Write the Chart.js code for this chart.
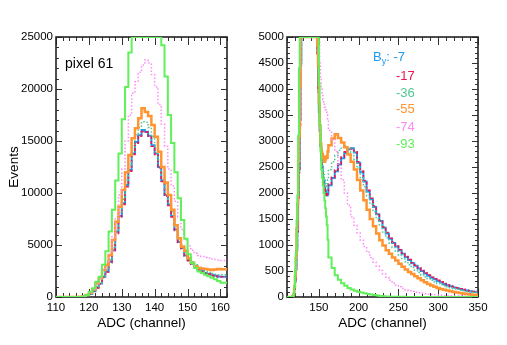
<!DOCTYPE html>
<html>
<head>
<meta charset="utf-8">
<script src="https://cdn.jsdelivr.net/npm/chart.js@4.4.0/dist/chart.umd.min.js"></script>
<style>
  html, body { margin: 0; padding: 0; background: #fff; }
  canvas { position: absolute; top: 0; }
  #cLeft { left: 0; }
  #cRight { left: 253px; }
</style>
</head>
<body>
<canvas id="cLeft" width="253" height="345"></canvas>
<canvas id="cRight" width="254" height="345"></canvas>
<script>
// B_y settings shown in the legend
const fieldLabels = ['-7', '-17', '-36', '-55', '-74', '-93'];

// counts per 1-ADC bin, bins 110 ... 161
const low7 = [0, 0, 0, 0, 0, 0, 0, 0, 10, 40, 150, 300, 550, 930, 1310, 1950, 2450, 3400, 4500, 6280,
  7800, 9010, 10770, 12210, 13800, 14900, 15550, 16050, 15900, 15500, 14600, 13800, 12500, 11200, 9800, 8900,
  7800, 6500, 5300, 4700, 4000, 3550, 3200, 2900, 2650, 2500, 2300, 2220, 2100, 2050, 1980, 1950];
const low17 = [0, 0, 0, 0, 0, 0, 0, 0, 10, 35, 130, 280, 520, 880, 1250, 1880, 2400, 3300, 4400, 6100,
  7700, 8900, 10600, 12100, 13700, 14800, 15450, 15900, 15850, 15450, 14500, 13700, 12400, 11100, 9700, 8800,
  7700, 6400, 5250, 4650, 3950, 3500, 3150, 2880, 2620, 2450, 2280, 2200, 2080, 2030, 1960, 1940];
const low36 = [0, 0, 0, 0, 0, 0, 0, 0, 15, 45, 160, 320, 580, 980, 1380, 2050, 2600, 3550, 4700, 6500,
  8100, 9400, 11200, 12700, 14400, 15600, 16300, 16850, 16800, 16300, 15400, 14500, 13200, 11800, 10400, 9400,
  8200, 6900, 5700, 5000, 4300, 3800, 3400, 3100, 2850, 2650, 2450, 2350, 2250, 2180, 2150, 2130];
const low55 = [0, 0, 0, 0, 0, 0, 0, 0, 20, 60, 200, 400, 750, 1314, 1800, 2600, 3080, 4040, 5480, 7240,
  8680, 10300, 12000, 13650, 15260, 16220, 17180, 18140, 17800, 17400, 16540, 15410, 13970, 12500, 11000, 9800,
  8400, 6900, 5640, 4840, 4450, 3720, 3300, 2950, 2800, 2750, 2700, 2650, 2600, 2650, 2700, 2680];
const low74 = [0, 0, 0, 0, 0, 0, 0, 0, 10, 40, 200, 400, 750, 1300, 1800, 2600, 3400, 4400, 5800, 7500,
  9800, 12300, 15000, 17500, 19600, 20700, 21600, 22300, 22800, 22500, 21400, 20200, 18500, 16600, 14500, 12300,
  10700, 9200, 7700, 6500, 5500, 4900, 4500, 4200, 4000, 3900, 3800, 3750, 3650, 3600, 3560, 3500];
const low93 = [0, 0, 0, 0, 0, 0, 0, 0, 10, 50, 190, 500, 830, 1470, 1950, 3100, 4400, 6300, 8400, 11200,
  13800, 17100, 20200, 23500, 26500, 28500, 30000, 30500, 30500, 30000, 29000, 27500, 25800, 24200, 21200, 17500,
  14800, 12000, 9500, 7400, 5600, 4100, 3300, 2800, 2450, 2300, 2150, 2000, 1850, 1700, 1550, 1380];

// counts per 4-ADC bin, bins 162 ... 346
const tail7 = [1980, 2150, 2290, 2420, 2550, 2670, 2770, 2840, 2860, 2780, 2580, 2400, 2220, 2030, 1880, 1730,
  1590, 1460, 1330, 1220, 1120, 1040, 970, 900, 830, 770, 710, 650, 600, 550, 500, 450, 410, 370, 340, 310,
  280, 250, 225, 205, 185, 170, 155, 140, 125, 110, 100];
const tail17 = [1990, 2170, 2300, 2440, 2560, 2690, 2790, 2860, 2850, 2790, 2600, 2420, 2240, 2050, 1900, 1750,
  1600, 1470, 1350, 1240, 1130, 1050, 980, 910, 840, 780, 720, 660, 610, 560, 510, 460, 420, 380, 350, 320,
  290, 260, 235, 210, 190, 175, 160, 145, 130, 115, 105];
const tail36 = [2250, 2450, 2600, 2720, 2820, 2880, 2900, 2860, 2780, 2650, 2480, 2300, 2120, 1940, 1790, 1640,
  1500, 1370, 1250, 1140, 1040, 950, 870, 800, 740, 680, 620, 565, 515, 470, 425, 385, 350, 320, 290, 262,
  237, 214, 195, 176, 160, 145, 132, 120, 108, 98, 90];
const tail55 = [2800, 2920, 3050, 3130, 3060, 2970, 2880, 2740, 2600, 2450, 2250, 2050, 1860, 1680, 1500, 1360,
  1220, 1090, 990, 900, 830, 760, 700, 640, 580, 530, 480, 440, 400, 360, 320, 285, 250, 220, 195, 175,
  155, 140, 125, 110, 97, 86, 76, 66, 57, 50, 44];
const tail74 = [3380, 3200, 3030, 2800, 2500, 2250, 2000, 1760, 1540, 1380, 1230, 1090, 970, 860, 760, 670,
  590, 510, 440, 380, 320, 270, 230, 195, 165, 140, 120, 105, 92, 80, 70, 62, 55, 48, 42, 38,
  34, 30, 27, 24, 21, 19, 17, 15, 13, 12, 11];
const tail93 = [1100, 760, 560, 420, 330, 265, 215, 175, 145, 120, 100, 85, 72, 60, 48, 38,
  28, 20, 14, 10, 7, 5, 4, 3, 3, 2, 2, 2, 1, 1, 1, 1, 1, 0, 0, 0,
  0, 0, 0, 0, 0, 0, 0, 0, 0, 0, 0];

const leftXTicks = [110, 120, 130, 140, 150, 160];
const leftYTicks = [0, 5000, 10000, 15000, 20000, 25000];
const rightXTicks = [150, 200, 250, 300, 350];
const rightYTicks = [0, 500, 1000, 1500, 2000, 2500, 3000, 3500, 4000, 4500, 5000];

// bin edges
const lowEdges = [];
for (let e = 110; e <= 162; e++) lowEdges.push(e);
const tailEdges = [];
for (let e = 162; e <= 350; e += 4) tailEdges.push(e);

const lowSets = [low7, low17, low36, low55, low74, low93];
const tailSets = [tail7, tail17, tail36, tail55, tail74, tail93];

const colors = ['#1e9bf0', '#f01450', '#50c896', '#ff9430', '#ff8cf5', '#60f05a'];
const widths = [2, 1.6, 1.5, 2.5, 1.5, 2];
const dashes = [[], [3, 2], [1.5, 2], [], [1.5, 2], []];
const FONT = "'Liberation Sans', Arial, Helvetica, sans-serif";

function histPoints(edges, counts, cap) {
  const pts = counts.map((c, i) => ({ x: edges[i], y: Math.min(c, cap) }));
  pts.push({ x: edges[counts.length], y: Math.min(counts[counts.length - 1], cap) });
  return pts;
}

// frame with ROOT-like inner ticks on all four sides, plus free text
const rootFrame = {
  id: 'rootFrame',
  beforeDatasetsDraw(chart, args, opts) {
    const { ctx, chartArea: a, scales: { x, y } } = chart;
    ctx.save();
    ctx.strokeStyle = '#333';
    ctx.lineWidth = 1;
    ctx.beginPath();
    for (let v = x.min; v <= x.max + 1e-6; v += opts.xMinor) {
      const px = Math.round(x.getPixelForValue(v)) + 0.5;
      const len = opts.xMajor.includes(v) ? 8 : 4;
      ctx.moveTo(px, a.bottom); ctx.lineTo(px, a.bottom - len);
      ctx.moveTo(px, a.top); ctx.lineTo(px, a.top + len);
    }
    for (let v = y.min; v <= y.max + 1e-6; v += opts.yMinor) {
      const py = Math.round(y.getPixelForValue(v)) + 0.5;
      const len = opts.yMajor.includes(v) ? 6 : 3;
      ctx.moveTo(a.left, py); ctx.lineTo(a.left + len, py);
      ctx.moveTo(a.right, py); ctx.lineTo(a.right - len, py);
    }
    ctx.stroke();
    ctx.lineWidth = 1.6;
    ctx.strokeStyle = '#222';
    ctx.strokeRect(a.left, a.top, a.right - a.left, a.bottom - a.top);
    ctx.restore();
  },
  afterDraw(chart, args, opts) {
    const ctx = chart.ctx;
    ctx.save();
    ctx.textBaseline = 'alphabetic';
    (opts.texts || []).forEach(t => {
      ctx.fillStyle = t.color;
      ctx.font = t.size + 'px ' + FONT;
      ctx.fillText(t.text, t.x, t.y);
      if (t.sub) {
        const w = ctx.measureText(t.text).width;
        ctx.font = (t.size * 0.7) + 'px ' + FONT;
        ctx.fillText(t.sub, t.x + w, t.y + 3);
        const ws = ctx.measureText(t.sub).width;
        ctx.font = t.size + 'px ' + FONT;
        ctx.fillText(t.after, t.x + w + ws, t.y);
      }
    });
    ctx.restore();
  }
};

function makeChart(id, cfg) {
  const datasets = lowSets.map((low, i) => {
    const counts = cfg.withTail ? low.concat(tailSets[i]) : low;
    const edges = cfg.withTail ? lowEdges.slice(0, low.length).concat(tailEdges) : lowEdges;
    return {
      label: fieldLabels[i],
      data: histPoints(edges, counts, cfg.yMax),
      borderColor: colors[i],
      borderWidth: widths[i],
      borderDash: dashes[i],
      pointRadius: 0,
      stepped: 'after',
      fill: false,
      order: 5 - i
    };
  });
  const tickFont = { family: FONT, size: 11.5 };
  const titleFont = { family: FONT, size: 13.5 };
  return new Chart(document.getElementById(id), {
    type: 'line',
    data: { datasets },
    plugins: [rootFrame],
    options: {
      responsive: false,
      animation: false,
      layout: { padding: { top: 37, right: cfg.padRight, bottom: 0, left: 0 } },
      plugins: {
        legend: { display: false },
        tooltip: { enabled: false },
        rootFrame: {
          xMinor: cfg.xMinor, yMinor: cfg.yMinor,
          xMajor: cfg.xTicks, yMajor: cfg.yTicks,
          texts: cfg.texts
        }
      },
      scales: {
        x: {
          type: 'linear', min: cfg.xMin, max: cfg.xMax,
          grid: { display: false, drawTicks: false },
          border: { display: false },
          afterBuildTicks: s => { s.ticks = cfg.xTicks.map(v => ({ value: v })); },
          afterFit: s => { s.height = 48; },
          ticks: { font: tickFont, color: '#000', padding: 4, maxRotation: 0, autoSkip: false, callback: v => String(v) },
          title: { display: true, text: 'ADC (channel)', font: titleFont, color: '#000', padding: { top: 0, bottom: 14 } }
        },
        y: {
          type: 'linear', min: 0, max: cfg.yMax,
          grid: { display: false, drawTicks: false },
          border: { display: false },
          afterBuildTicks: s => { s.ticks = cfg.yTicks.map(v => ({ value: v })); },
          afterFit: s => { s.width = cfg.yWidth; },
          ticks: { font: tickFont, color: '#000', padding: 3, callback: v => String(v) },
          title: { display: cfg.yTitle, text: 'Events', font: titleFont, color: '#000', padding: { top: 6, bottom: 0 } }
        }
      }
    }
  });
}

makeChart('cLeft', {
  withTail: false, xMin: 110, xMax: 162, yMax: 25000,
  xTicks: leftXTicks, yTicks: leftYTicks, xMinor: 2, yMinor: 1000,
  yWidth: 56, padRight: 26, yTitle: true,
  texts: [{ text: 'pixel 61', x: 65, y: 68, size: 14, color: '#000' }]
});

makeChart('cRight', {
  withTail: true, xMin: 110, xMax: 350, yMax: 5000,
  xTicks: rightXTicks, yTicks: rightYTicks, xMinor: 10, yMinor: 100,
  yWidth: 34, padRight: 29, yTitle: false,
  texts: [
    { text: 'B', sub: 'y', after: ': ' + fieldLabels[0], x: 120, y: 61, size: 13, color: colors[0] },
    { text: fieldLabels[1], x: 143, y: 79.5, size: 13, color: colors[1] },
    { text: fieldLabels[2], x: 143, y: 96.5, size: 13, color: colors[2] },
    { text: fieldLabels[3], x: 143, y: 113, size: 13, color: colors[3] },
    { text: fieldLabels[4], x: 143, y: 131, size: 13, color: colors[4] },
    { text: fieldLabels[5], x: 143, y: 147.5, size: 13, color: colors[5] }
  ]
});
</script>
</body>
</html>
